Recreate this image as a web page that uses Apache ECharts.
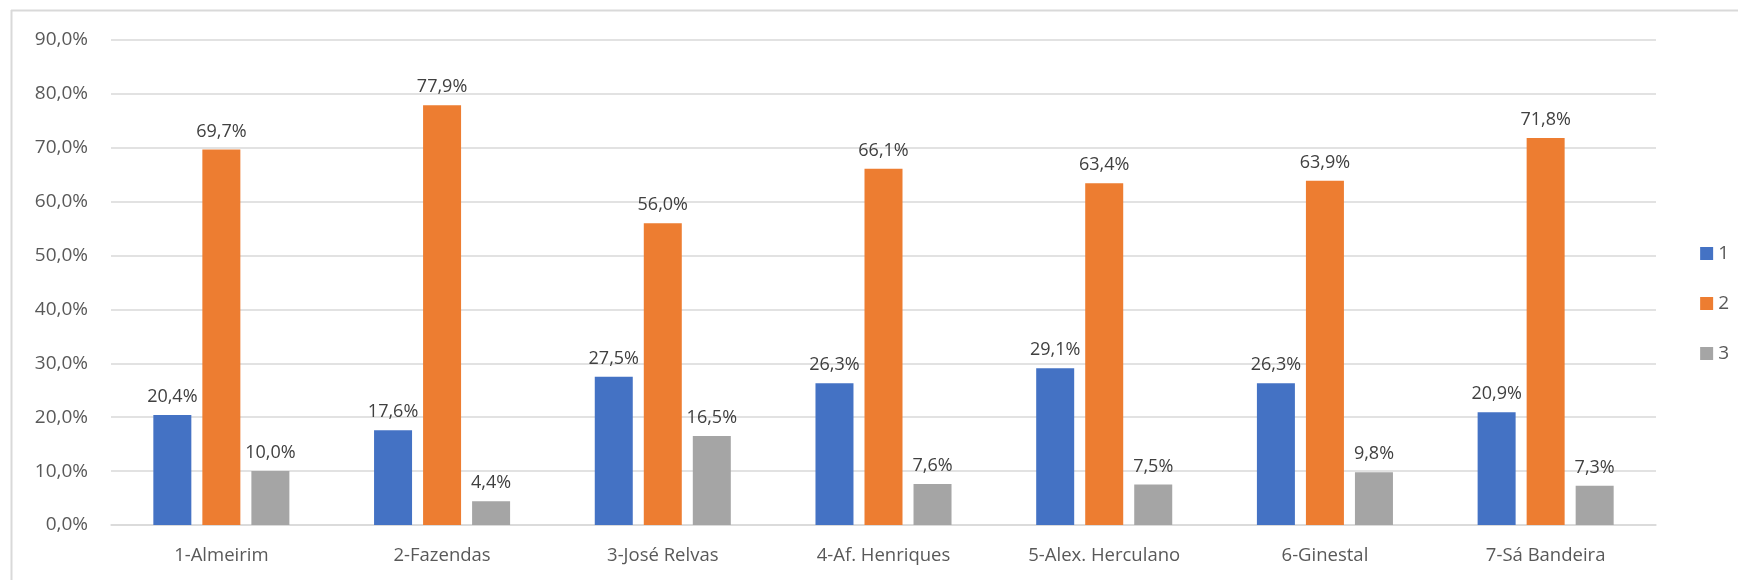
<!DOCTYPE html>
<html>
<head>
<meta charset="utf-8">
<script src="https://cdn.jsdelivr.net/npm/echarts@6/dist/echarts.min.js"></script>
<style>
html,body{margin:0;padding:0;background:#fff;}
#chart{width:1738px;height:580px;}
</style>
</head>
<body>
<div id="chart"></div>
<script>
const categories = ['1-Almeirim','2-Fazendas','3-José Relvas','4-Af. Henriques','5-Alex. Herculano','6-Ginestal','7-Sá Bandeira'];
const seriesNames = ['1','2','3'];
const series1 = [20.4, 17.6, 27.5, 26.3, 29.1, 26.3, 20.9];
const series2 = [69.7, 77.9, 56.0, 66.1, 63.4, 63.9, 71.8];
const series3 = [10.0, 4.4, 16.5, 7.6, 7.5, 9.8, 7.3];
const colors = ['#4472C4', '#ED7D31', '#A5A5A5'];

const FONT = 'Open Sans';
const fmt = v => v.toFixed(1).replace('.', ',') + '%';

const chart = echarts.init(document.getElementById('chart'));
const mk = (name, data, color) => ({
  name, type: 'bar', data, barWidth: 38, barGap: '29%',
  itemStyle: { color },
  label: { show: true, position: 'top', distance: 9, color: '#404040',
    fontFamily: FONT, fontSize: 18, formatter: p => fmt(p.value) }
});
chart.setOption({
  animation: false,
  textStyle: { fontFamily: FONT },
  grid: { left: 111, right: 82, top: 40, bottom: 55 },
  legend: {
    orient: 'vertical', right: 4,
    top: 239,
    itemWidth: 13, itemHeight: 13, itemGap: 31,
    icon: 'rect',
    textStyle: { fontFamily: FONT, fontSize: 19, color: '#595959' },
    data: seriesNames
  },
  xAxis: {
    type: 'category', data: categories,
    axisLine: { show: true, lineStyle: { color: '#D9D9D9', width: 1.5 } },
    axisTick: { show: false },
    axisLabel: { color: '#595959', fontFamily: FONT, fontSize: 18.5, margin: 21 }
  },
  yAxis: {
    type: 'value', min: 0, max: 90, interval: 10,
    axisLine: { show: false }, axisTick: { show: false },
    splitLine: { lineStyle: { color: '#D9D9D9', width: 1.5 } },
    axisLabel: { color: '#595959', fontFamily: FONT, fontSize: 19, margin: 23, formatter: v => fmt(v) }
  },
  graphic: [
    { type: 'line', shape: { x1: 11, y1: 10.5, x2: 1738, y2: 10.5 }, style: { stroke: '#D9D9D9', lineWidth: 2 } },
    { type: 'line', shape: { x1: 11.5, y1: 10, x2: 11.5, y2: 580 }, style: { stroke: '#D9D9D9', lineWidth: 2 } }
  ],
  series: [mk(seriesNames[0], series1, colors[0]), mk(seriesNames[1], series2, colors[1]), mk(seriesNames[2], series3, colors[2])]
});
</script>
</body>
</html>
